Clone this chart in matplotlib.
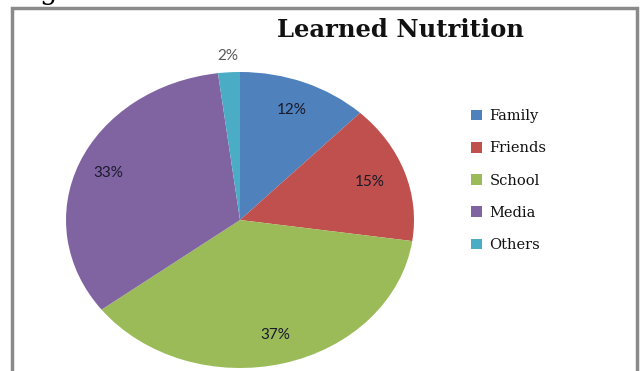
import matplotlib
matplotlib.use("Agg")
import matplotlib.pyplot as plt
import numpy as np
from matplotlib.patches import Rectangle

categories = ["Family", "Friends", "School", "Media", "Others"]
values = [12, 15, 37, 33, 2]
pct_labels = ["12%", "15%", "37%", "33%", "2%"]
colors = ["#4F81BD", "#C0504D", "#9BBB59", "#8064A2", "#4BACC6"]

W, H = 640, 371
fig = plt.figure(figsize=(W / 100, H / 100), dpi=100)
fig.patch.set_facecolor("white")

# frame border
fig.patches.append(Rectangle((12 / W, -0.1), (637 - 12) / W, 1.1 - 8 / H,
                             transform=fig.transFigure, fill=False,
                             edgecolor="#8a8a8a", linewidth=2.5))

# cut-off caption at top (only descenders visible, as in the reference)
fig.text(12 / W, 1 + 1 / H, "Figure", fontsize=20, family="DejaVu Serif",
         va="baseline", ha="left", color="black")

cx, cy, rx, ry = 240, 220, 174, 148
ax = fig.add_axes([(cx - rx) / W, (H - (cy + ry)) / H, 2 * rx / W, 2 * ry / H])
wedges, _ = ax.pie(values, colors=colors, startangle=90, counterclock=False,
                   wedgeprops=dict(linewidth=0, edgecolor="none"))
ax.set_aspect("auto")
ax.set_xlim(-1, 1)
ax.set_ylim(-1, 1)
ax.axis("off")

dists = [0.80, 0.79, 0.80, 0.82, 1.11]
for w, lab, d, i in zip(wedges, pct_labels, dists, range(5)):
    ang = np.deg2rad((w.theta1 + w.theta2) / 2)
    ax.text(d * np.cos(ang), d * np.sin(ang), lab, ha="center", va="center",
            fontsize=11, family="Lato",
            color="#595959" if i == 4 else "#1a1a2a")

fig.text(400 / W, 1 - 30 / H, "Learned Nutrition", ha="center", va="center",
         fontsize=17.5, fontweight="bold", family="DejaVu Serif", color="#111111")

leg = fig.legend(wedges, categories, loc="upper left",
                 bbox_to_anchor=(458 / W, 1 - 96 / H), frameon=False,
                 prop=dict(family="DejaVu Serif", size=10.5),
                 handlelength=0.75, handleheight=0.75, handletextpad=0.5,
                 labelspacing=1.25)
for t in leg.get_texts():
    t.set_color("#111111")

fig.savefig("out.png", dpi=100, facecolor="white")
